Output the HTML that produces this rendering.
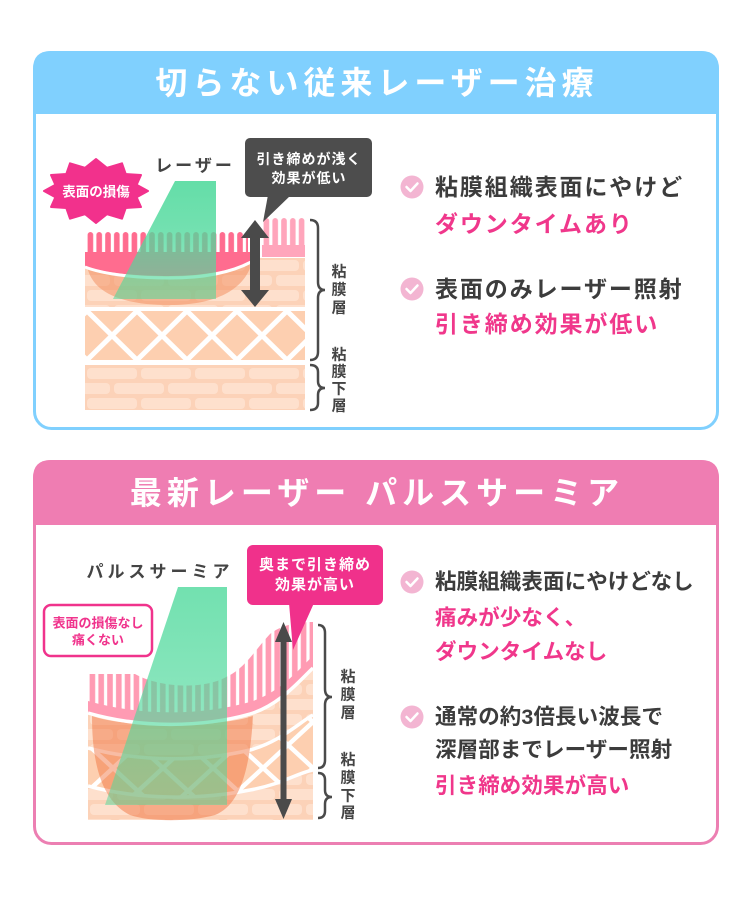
<!DOCTYPE html>
<html><head><meta charset="utf-8">
<style>
html,body{margin:0;padding:0;background:#fff;}
svg{display:block;}
.t{font-family:"Liberation Sans","Noto Sans CJK JP",sans-serif;font-weight:700;}
</style></head>
<body>
<svg width="750" height="905" viewBox="0 0 750 905" xmlns="http://www.w3.org/2000/svg">
<defs>
  <pattern id="br1" x="85" y="258" width="54" height="30" patternUnits="userSpaceOnUse">
    <rect width="54" height="30" fill="#fcd2b8"/>
    <rect x="2" y="2" width="50" height="11" rx="4" fill="#fee0cd"/>
    <rect x="-25" y="17" width="50" height="11" rx="4" fill="#fee0cd"/>
    <rect x="29" y="17" width="50" height="11" rx="4" fill="#fee0cd"/>
  </pattern>
  <pattern id="br2" x="85" y="366" width="54" height="30" patternUnits="userSpaceOnUse">
    <rect width="54" height="30" fill="#fcd2b8"/>
    <rect x="2" y="2" width="50" height="11" rx="4" fill="#fee0cd"/>
    <rect x="-25" y="17" width="50" height="11" rx="4" fill="#fee0cd"/>
    <rect x="29" y="17" width="50" height="11" rx="4" fill="#fee0cd"/>
  </pattern>
  <pattern id="br3" x="88" y="712" width="54" height="30" patternUnits="userSpaceOnUse">
    <rect width="54" height="30" fill="#fcd2b8"/>
    <rect x="2" y="2" width="50" height="11" rx="4" fill="#fee0cd"/>
    <rect x="-25" y="17" width="50" height="11" rx="4" fill="#fee0cd"/>
    <rect x="29" y="17" width="50" height="11" rx="4" fill="#fee0cd"/>
  </pattern>
  <pattern id="lat1" x="87" y="311" width="50" height="49" patternUnits="userSpaceOnUse">
    <rect width="50" height="49" fill="#fdcfb0"/>
    <path d="M0,0 L50,49 M50,0 L0,49" stroke="#fff" stroke-width="5"/>
  </pattern>
  <pattern id="lat2" x="88" y="745" width="50" height="46" patternUnits="userSpaceOnUse">
    <rect width="50" height="46" fill="#fdcfb0"/>
    <path d="M0,0 L50,46 M50,0 L0,46" stroke="#fff" stroke-width="4.5"/>
  </pattern>
  <pattern id="vd" x="86" y="232" width="8.8" height="300" patternUnits="userSpaceOnUse">
    <rect x="1.6" y="0" width="5.6" height="300" rx="2.8" fill="#ff6c8f"/>
  </pattern>
  <pattern id="vl" x="262" y="218" width="8.8" height="300" patternUnits="userSpaceOnUse">
    <rect x="1.6" y="0" width="5.6" height="300" rx="2.8" fill="#ffa5bb"/>
  </pattern>
  <pattern id="vl2" x="88" y="600" width="8.8" height="300" patternUnits="userSpaceOnUse">
    <rect x="1.6" y="0" width="5.6" height="300" rx="2.8" fill="#ff9bb3"/>
  </pattern>
  <linearGradient id="beam1" x1="0" y1="181" x2="0" y2="300" gradientUnits="userSpaceOnUse">
    <stop offset="0" stop-color="#4fd99c" stop-opacity="0.88"/>
    <stop offset="0.4" stop-color="#4fd99c" stop-opacity="0.8"/>
    <stop offset="1" stop-color="#4fd99c" stop-opacity="0.55"/>
  </linearGradient>
  <linearGradient id="beam2" x1="0" y1="587" x2="0" y2="805" gradientUnits="userSpaceOnUse">
    <stop offset="0" stop-color="#4fd99c" stop-opacity="0.8"/>
    <stop offset="0.4" stop-color="#4fd99c" stop-opacity="0.7"/>
    <stop offset="1" stop-color="#4fd99c" stop-opacity="0.5"/>
  </linearGradient>
</defs>

<!-- ============ BOX 1 ============ -->
<rect x="34.5" y="52.5" width="683" height="376" rx="17" fill="#fff" stroke="#80d0fe" stroke-width="3"/>
<path d="M33,114 L33,69 Q33,51 51,51 L701,51 Q719,51 719,69 L719,114 Z" fill="#80d0fe"/>
<text class="t" x="377" y="83" font-size="32" letter-spacing="5" fill="#fff" text-anchor="middle" dominant-baseline="central">切らない従来レーザー治療</text>

<!-- skin layers -->
<rect x="85" y="258" width="220" height="49" fill="url(#br1)"/>
<rect x="85" y="311" width="220" height="49" fill="url(#lat1)"/>
<rect x="85" y="365" width="220" height="45" fill="url(#br2)"/>
<!-- damaged bowl -->
<path d="M87,266 C92,292 120,305 170,305 C215,305 245,290 252,262 C232,272 205,279 170,279 C130,279 100,275 87,266 Z" fill="#f2895a" fill-opacity="0.5"/>
<!-- left damaged villi -->
<rect x="85" y="232" width="163" height="22" fill="url(#vd)"/>
<path d="M85,252 L250,252 L250,262 C232,270 205,276 170,276 C130,276 100,272 85,266 Z" fill="#ff6c8f"/>
<path d="M85,267 C100,273 130,278 170,278 C205,278 232,272 251,262" fill="none" stroke="#fff" stroke-width="3"/>
<!-- right healthy villi -->
<rect x="262" y="218" width="43" height="30" fill="url(#vl)"/>
<rect x="262" y="245" width="43" height="12" fill="#ffa5bb"/>
<!-- beam -->
<polygon points="175,181 216,181 216,299 113,299" fill="url(#beam1)"/>

<!-- arrow -->
<rect x="250" y="235" width="10" height="58" fill="#4a4a4a"/>
<polygon points="255,220 241,238 269,238" fill="#4a4a4a"/>
<polygon points="255,307 241,290 269,290" fill="#4a4a4a"/>

<!-- dark callout -->
<rect x="245" y="138" width="127" height="59" rx="5" fill="#4d4d4d"/>
<polygon points="268,195 291,195 263,222" fill="#4d4d4d"/>
<text class="t" x="309" y="159" font-size="14" letter-spacing="1" fill="#fff" text-anchor="middle" dominant-baseline="central">引き締めが浅く</text>
<text class="t" x="309" y="178" font-size="14" letter-spacing="1" fill="#fff" text-anchor="middle" dominant-baseline="central">効果が低い</text>

<!-- starburst -->
<polygon points="148,191 136.6,197.2 141,207 125.7,208 122,218.7 106.9,214.2 96,223 85.1,214.2 70,218.7 66.3,208 51,207 55.4,197.2 44,191 55.4,184.8 51,175 66.3,174 70,163.3 85.1,167.8 96,159 106.9,167.8 122,163.3 125.7,174 141,175 136.6,184.8" fill="#f2318c" stroke="#f2318c" stroke-width="2" stroke-linejoin="round"/>
<text class="t" x="96" y="192" font-size="13.5" fill="#fff" text-anchor="middle" dominant-baseline="central">表面の損傷</text>

<text class="t" x="195" y="166" font-size="17" letter-spacing="3" fill="#444" text-anchor="middle" dominant-baseline="central">レーザー</text>

<!-- braces -->
<path d="M310,220 Q318,220 318,228 L318,282 Q318,290 325,290 Q318,290 318,298 L318,352 Q318,360 310,360" fill="none" stroke="#4a4a4a" stroke-width="2.5"/>
<path d="M310,365 Q318,365 318,372 L318,381 Q318,388 325,388 Q318,388 318,395 L318,403 Q318,410 310,410" fill="none" stroke="#4a4a4a" stroke-width="2.5"/>
<g class="t" font-size="15" fill="#444" text-anchor="middle" dominant-baseline="central">
  <text x="339" y="272">粘</text><text x="339" y="290">膜</text><text x="339" y="308">層</text>
  <text x="339" y="355">粘</text><text x="339" y="372">膜</text><text x="339" y="389">下</text><text x="339" y="406">層</text>
</g>

<!-- right text box1 -->
<circle cx="412" cy="187" r="11.5" fill="#f3b5d2"/>
<polyline points="406.5,187 410.5,191 417.5,183.5" fill="none" stroke="#fff" stroke-width="2.5" stroke-linecap="round" stroke-linejoin="round"/>
<text class="t" x="435" y="187" font-size="23" letter-spacing="1.9" fill="#3c3c3c" dominant-baseline="central">粘膜組織表面にやけど</text>
<text class="t" x="435" y="224" font-size="23" letter-spacing="1.9" fill="#f0378b" dominant-baseline="central">ダウンタイムあり</text>
<circle cx="412" cy="289" r="11.5" fill="#f3b5d2"/>
<polyline points="406.5,289 410.5,293 417.5,285.5" fill="none" stroke="#fff" stroke-width="2.5" stroke-linecap="round" stroke-linejoin="round"/>
<text class="t" x="435" y="289" font-size="23" letter-spacing="1.9" fill="#3c3c3c" dominant-baseline="central">表面のみレーザー照射</text>
<text class="t" x="435" y="324" font-size="23" letter-spacing="1.9" fill="#f0378b" dominant-baseline="central">引き締め効果が低い</text>

<!-- ============ BOX 2 ============ -->
<rect x="34.5" y="461.5" width="683" height="382" rx="17" fill="#fff" stroke="#ec7fb2" stroke-width="3"/>
<path d="M33,525 L33,478 Q33,460 51,460 L701,460 Q719,460 719,478 L719,525 Z" fill="#ef7db2"/>
<text class="t" x="377" y="493" font-size="32" letter-spacing="5" fill="#fff" text-anchor="middle" dominant-baseline="central">最新レーザー パルスサーミア</text>

<!-- skin block -->
<path d="M88,713 C140,728 200,728 250,714 C280,705 300,680 313,668 L313,820 L88,820 Z" fill="url(#br3)"/>
<path d="M88,748 C140,762 200,762 250,750 C280,742 300,722 313,715 L313,770 C300,772 280,785 250,790 C200,800 140,800 88,786 Z" fill="url(#lat2)"/>
<path d="M88,748 C140,762 200,762 250,750 C280,742 300,722 313,715" fill="none" stroke="#fff" stroke-width="3.5"/>
<path d="M88,786 C140,800 200,800 250,790 C280,785 300,772 313,770" fill="none" stroke="#fff" stroke-width="3.5"/>
<!-- heated region -->
<path d="M92,716 C92,760 100,800 130,815 C150,822 190,822 215,815 C240,805 250,770 253,716 C220,727 130,729 92,716 Z" fill="#f06a35" fill-opacity="0.45"/>
<!-- villi -->
<path d="M88,674 L135,674 C160,688 205,690 228,676 C245,668 255,650 270,634 C280,626 295,622 313,622 L313,668 C300,680 280,705 250,714 C200,728 140,728 88,713 Z" fill="url(#vl2)"/>
<path d="M88,701 C140,716 200,716 250,702 C280,693 300,668 313,656 L313,668 C300,680 280,705 250,714 C200,728 140,728 88,713 Z" fill="#ff9bb3"/>
<path d="M88,713 C140,728 200,728 250,714 C280,705 300,680 313,668" fill="none" stroke="#fff" stroke-width="3.5"/>
<!-- beam -->
<polygon points="178,587 227,587 227,805 105,805" fill="url(#beam2)"/>

<!-- arrow -->
<rect x="280.5" y="636" width="6" height="168" fill="#4a4a4a"/>
<polygon points="283.5,622 275,642 292,642" fill="#4a4a4a"/>
<polygon points="283.5,819 275,799 292,799" fill="#4a4a4a"/>

<!-- pink callout -->
<rect x="247" y="545" width="136" height="60" rx="6" fill="#f0318b"/>
<polygon points="289,603 314,603 293,650" fill="#f0318b"/>
<text class="t" x="315" y="565" font-size="15" letter-spacing="1" fill="#fff" text-anchor="middle" dominant-baseline="central">奥まで引き締め</text>
<text class="t" x="315" y="585" font-size="15" letter-spacing="1" fill="#fff" text-anchor="middle" dominant-baseline="central">効果が高い</text>

<!-- note box -->
<rect x="44" y="605" width="108" height="51" rx="7" fill="#fff" stroke="#f0338c" stroke-width="2.5"/>
<text class="t" x="98" y="623" font-size="13" fill="#f0338c" text-anchor="middle" dominant-baseline="central">表面の損傷なし</text>
<text class="t" x="98" y="640" font-size="13" fill="#f0338c" text-anchor="middle" dominant-baseline="central">痛くない</text>

<text class="t" x="160" y="572" font-size="17" letter-spacing="4" fill="#444" text-anchor="middle" dominant-baseline="central">パルスサーミア</text>

<!-- braces -->
<path d="M318,625 Q325,625 325,633 L325,689 Q325,697 332,697 Q325,697 325,705 L325,760 Q325,768 318,768" fill="none" stroke="#4a4a4a" stroke-width="2.5"/>
<path d="M318,773 Q325,773 325,780 L325,790 Q325,797 332,797 Q325,797 325,804 L325,811 Q325,818 318,818" fill="none" stroke="#4a4a4a" stroke-width="2.5"/>
<g class="t" font-size="15" fill="#444" text-anchor="middle" dominant-baseline="central">
  <text x="348" y="677">粘</text><text x="348" y="695">膜</text><text x="348" y="713">層</text>
  <text x="348" y="760">粘</text><text x="348" y="778">膜</text><text x="348" y="796">下</text><text x="348" y="813">層</text>
</g>

<!-- right text box2 -->
<circle cx="412" cy="582" r="11.5" fill="#f3b5d2"/>
<polyline points="406.5,582 410.5,586 417.5,578.5" fill="none" stroke="#fff" stroke-width="2.5" stroke-linecap="round" stroke-linejoin="round"/>
<text class="t" x="435" y="582" font-size="21.5" letter-spacing="0.1" fill="#3c3c3c" dominant-baseline="central">粘膜組織表面にやけどなし</text>
<text class="t" x="435" y="618" font-size="21.5" letter-spacing="0.1" fill="#f0378b" dominant-baseline="central">痛みが少なく、</text>
<text class="t" x="435" y="652" font-size="21.5" letter-spacing="0.1" fill="#f0378b" dominant-baseline="central">ダウンタイムなし</text>
<circle cx="412" cy="717" r="11.5" fill="#f3b5d2"/>
<polyline points="406.5,717 410.5,721 417.5,713.5" fill="none" stroke="#fff" stroke-width="2.5" stroke-linecap="round" stroke-linejoin="round"/>
<text class="t" x="435" y="717" font-size="21.5" letter-spacing="0.1" fill="#3c3c3c" dominant-baseline="central">通常の約3倍長い波長で</text>
<text class="t" x="435" y="750" font-size="21.5" letter-spacing="0.1" fill="#3c3c3c" dominant-baseline="central">深層部までレーザー照射</text>
<text class="t" x="435" y="786" font-size="21.5" letter-spacing="0.1" fill="#f0378b" dominant-baseline="central">引き締め効果が高い</text>
</svg>
</body></html>
